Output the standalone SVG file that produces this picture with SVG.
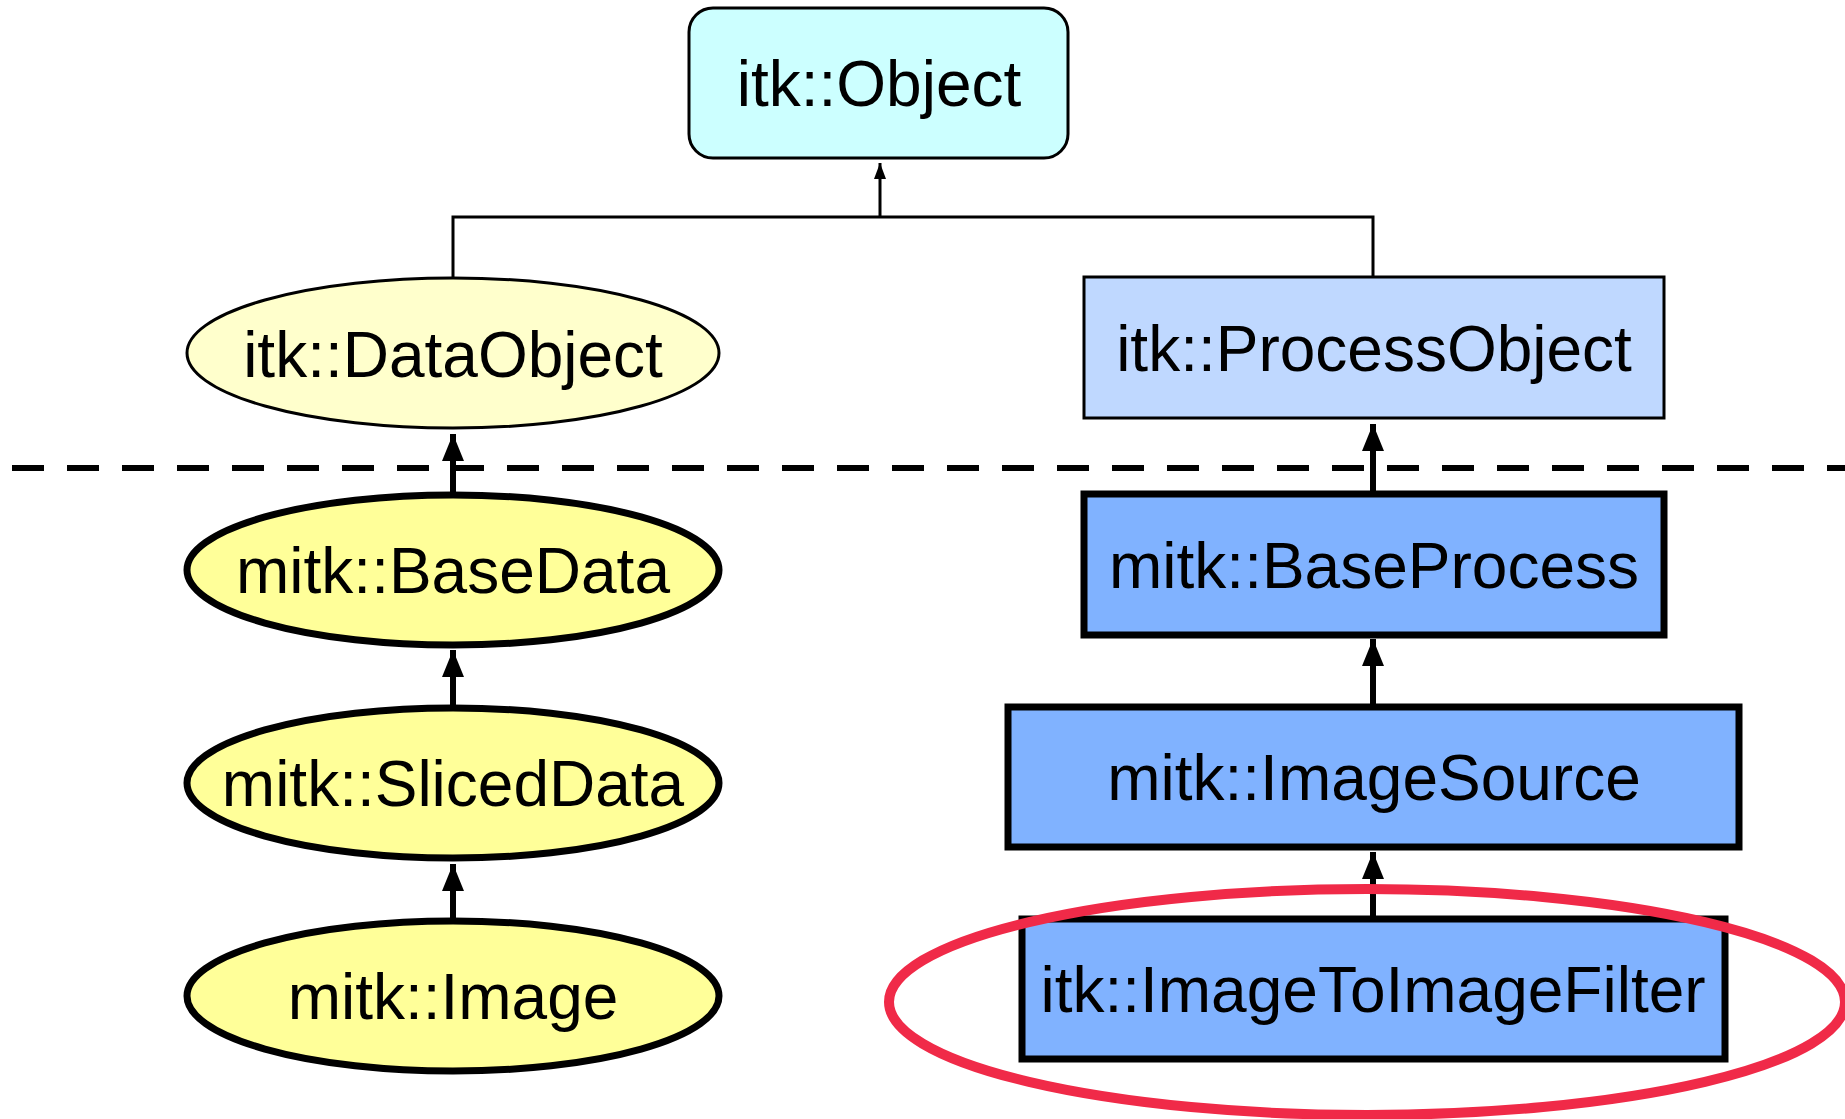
<svg xmlns="http://www.w3.org/2000/svg" width="1845" height="1119" viewBox="0 0 1845 1119">
<style>
text{font-family:"Liberation Sans",Arial,sans-serif;font-size:64px;fill:#000;text-anchor:middle}
.thin{stroke:#000;stroke-width:3}
.thick{stroke:#000;stroke-width:7}
.conn{fill:none;stroke:#000}
</style>
<defs>
<marker id="ahs" markerUnits="userSpaceOnUse" viewBox="0 0 16 12" refX="16" refY="6" markerWidth="16" markerHeight="12" orient="auto">
<path d="M0,0 L16,6 L0,12 Z" fill="#000"/>
</marker>
<marker id="ahl" markerUnits="userSpaceOnUse" viewBox="0 0 27 22" refX="27" refY="11" markerWidth="27" markerHeight="22" orient="auto">
<path d="M0,0 L27,11 L0,22 Z" fill="#000"/>
</marker>
</defs>
<rect width="1845" height="1119" fill="#fff"/>
<line x1="12" y1="468" x2="1845" y2="468" stroke="#000" stroke-width="6" stroke-dasharray="32 23"/>
<g id="connectors">
<path class="conn" d="M453,278 V217 H1373 V276" stroke-width="3"/>
<line class="conn" x1="880" y1="217" x2="880" y2="163" stroke-width="3" marker-end="url(#ahs)"/>
<line class="conn" x1="453" y1="492" x2="453" y2="434" stroke-width="6" marker-end="url(#ahl)"/>
<line class="conn" x1="453" y1="706" x2="453" y2="650" stroke-width="6" marker-end="url(#ahl)"/>
<line class="conn" x1="453" y1="919" x2="453" y2="864" stroke-width="6" marker-end="url(#ahl)"/>
<line class="conn" x1="1373" y1="493" x2="1373" y2="424" stroke-width="6" marker-end="url(#ahl)"/>
<line class="conn" x1="1373" y1="706" x2="1373" y2="639" stroke-width="6" marker-end="url(#ahl)"/>
<line class="conn" x1="1373" y1="916" x2="1373" y2="852" stroke-width="6" marker-end="url(#ahl)"/>
</g>
<g id="itkObject">
<rect class="thin" x="689" y="8" width="379" height="150" rx="24" fill="#ccffff"/>
<text x="879" y="106">itk::Object</text>
</g>
<g id="itkDataObject">
<ellipse class="thin" cx="453" cy="353" rx="266" ry="75" fill="#ffffcc"/>
<text x="453" y="377">itk::DataObject</text>
</g>
<g id="mitkBaseData">
<ellipse class="thick" cx="453" cy="570" rx="266" ry="75" fill="#ffff99"/>
<text x="453" y="593">mitk::BaseData</text>
</g>
<g id="mitkSlicedData">
<ellipse class="thick" cx="453" cy="783" rx="266" ry="75" fill="#ffff99"/>
<text x="453" y="806">mitk::SlicedData</text>
</g>
<g id="mitkImage">
<ellipse class="thick" cx="453" cy="996" rx="266" ry="75" fill="#ffff99"/>
<text x="453" y="1019">mitk::Image</text>
</g>
<g id="itkProcessObject">
<rect class="thin" x="1084" y="277" width="580" height="141" fill="#bfd8ff"/>
<text x="1374" y="371">itk::ProcessObject</text>
</g>
<g id="mitkBaseProcess">
<rect class="thick" x="1084" y="494" width="580" height="141" fill="#80b2ff"/>
<text x="1374" y="588">mitk::BaseProcess</text>
</g>
<g id="mitkImageSource">
<rect class="thick" x="1008" y="707" width="731" height="140" fill="#80b2ff"/>
<text x="1374" y="800">mitk::ImageSource</text>
</g>
<g id="itkImageToImageFilter">
<rect class="thick" x="1022" y="919" width="703" height="140" fill="#80b2ff"/>
<text x="1373" y="1012">itk::ImageToImageFilter</text>
</g>
<ellipse id="highlight" cx="1367" cy="1002" rx="478" ry="113" fill="none" stroke="#f02a48" stroke-width="10"/>
</svg>
